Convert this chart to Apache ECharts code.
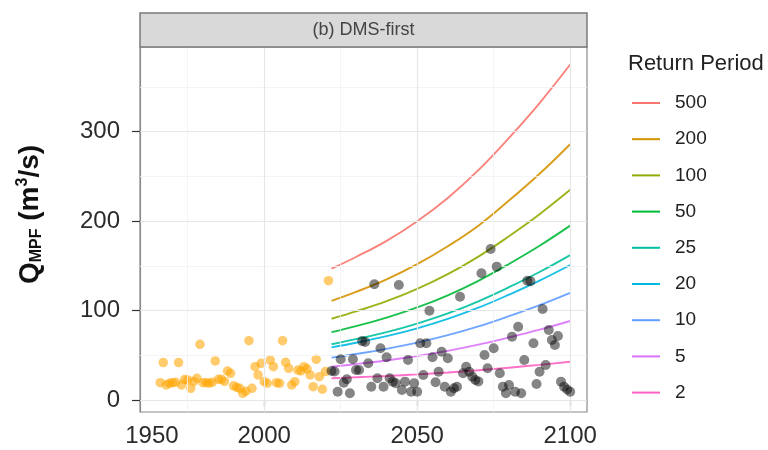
<!DOCTYPE html>
<html>
<head>
<meta charset="utf-8">
<script src="https://cdn.jsdelivr.net/npm/echarts@6/dist/echarts.min.js"></script>
<style>
html,body{margin:0;padding:0;background:#fff;}
#chart{width:768px;height:450px;}
</style>
</head>
<body>
<div id="chart"></div>
<script>
// ---------- data ----------
const histYears = [1966,1967,1968,1969,1970,1971,1972,1973,1974,1975,1976,1977,1978,1979,1980,1981,1982,1983,1984,1985,1986,1987,1988,1989,1990,1991,1992,1993,1994,1995,1996,1997,1998,1999,2000,2001,2002,2003,2004,2005,2006,2007,2008,2009,2010,2011,2012,2013,2014,2015,2016,2017,2018,2019,2020,2021];
const histQ = [19.6,42,17,19,19.6,20,42,17,23,22.6,13.3,21,24.5,62.4,19.6,19.6,19,20,43.8,23.3,23.3,21,32.6,30,16,14.4,13.3,7.7,10,66.5,13.3,37.4,28.2,41.2,20.7,19,44.9,37.4,19.6,18.9,66.5,42.3,35.6,17,20.7,33.7,32.6,37.4,35,28.2,15.1,45.7,26.3,12.2,32,133.5];

const futYears = [2022,2023,2024,2025,2026,2027,2028,2029,2030,2031,2032,2033,2034,2035,2036,2037,2038,2039,2040,2041,2042,2043,2044,2045,2046,2047,2048,2049,2050,2051,2052,2053,2054,2055,2056,2057,2058,2059,2060,2061,2062,2063,2064,2065,2066,2067,2068,2069,2070,2071,2072,2073,2074,2075,2076,2077,2078,2079,2080,2081,2082,2083,2084,2085,2086,2087,2088,2089,2090,2091,2092,2093,2094,2095,2096,2097,2098,2099,2100];
const futQ = [32.6,32,9.5,45.7,19.6,23.3,7.7,45.7,33.7,33.7,66,65,41.2,15.1,129.5,24.5,58,15.1,47.9,24.5,20.7,18.9,128.7,11.4,20.7,44.9,9.5,18.9,9.5,63.6,28.2,63.6,100,47.9,20,31.8,54.2,15.1,46.8,9.5,13.3,15.1,115.6,30,37.4,31.8,26.3,22.6,21,141.8,50.5,35.6,169,58,149.2,30,15.1,7.7,17,71,9.5,82.1,7.7,44.9,133.5,133,63.6,18.1,31.8,101.9,39.3,78.4,67.3,61.7,71.7,20.7,15.1,12,9.5];

const curveYears = [2022,2030,2040,2050,2060,2070,2080,2090,2100];
const returnPeriods = ['500','200','100','50','25','20','10','5','2'];
const rp500 = [147,160,178,200,226,257,293,332,375];
const rp200 = [111,121,135,152,172,195,223,253,286];
const rp100 = [91,99.2,110.6,124.4,140.8,160.4,183.2,207.8,235];
const rp50  = [76,82.8,92.2,103.6,117.2,133.4,152.2,172.5,195];
const rp25  = [62.5,68.2,76,85.6,96.9,110.5,126.2,143.2,162];
const rp20  = [59,64.2,71.5,80.3,90.8,103.3,117.9,133.6,151];
const rp10  = [47.5,51.6,57.4,64.3,72.6,82.4,93.9,106.3,120];
const rp5   = [37.4,40.3,44.4,49.3,55.1,62,70.1,78.8,88.5];
const rp2   = [24.5,25.6,27,28.8,30.9,33.4,36.3,39.5,43];
const curveValues = [rp500,rp200,rp100,rp50,rp25,rp20,rp10,rp5,rp2];

const yTicks = [0,100,200,300];
const yGridMinor = [50,150,250,350];
const xTicks = [2000,2050,2100];
const xGridMinor = [1975,2025,2075];
// The reference shows a stray "1950" label near the left edge of the panel
const strayXLabelAt = 1963.3;
const strayXLabel = '1950';

const facetTitle = '(b) DMS-first';
const legendTitle = 'Return Period';

// ---------- style ----------
const colors = ['#F8766D','#D39200','#93AA00','#00BA38','#00C19F','#00B9E3','#619CFF','#DB72FB','#FF61C3'];
const FONT = '"Liberation Sans", Arial, Helvetica, sans-serif';
const G = {left:140, right:181, top:47, bottom:38};
const xMin = 1959.4, xMax = 2105.5, yMin = -13.2, yMax = 394.6;

const chart = echarts.init(document.getElementById('chart'), null, {renderer:'canvas'});

const gridLines = [];
yTicks.forEach(v => gridLines.push({yAxis:v, lineStyle:{color:'#e6e6e6', width:1.2, type:'solid'}}));
yGridMinor.forEach(v => gridLines.push({yAxis:v, lineStyle:{color:'#f1f1f1', width:0.8, type:'solid'}}));
xTicks.forEach(v => gridLines.push({xAxis:v, lineStyle:{color:'#e6e6e6', width:1.2, type:'solid'}}));
xGridMinor.forEach(v => gridLines.push({xAxis:v, lineStyle:{color:'#f1f1f1', width:0.8, type:'solid'}}));

const series = [{
  name:'_grid', type:'line', data:[], z:1, silent:true,
  markLine:{silent:true, symbol:'none', label:{show:false}, animation:false, data:gridLines}
}];
returnPeriods.forEach((rp,i) => {
  series.push({
    name: rp, type:'line', smooth:0.4, showSymbol:false, z:3,
    data: curveYears.map((y,j) => [y, curveValues[i][j]]),
    lineStyle:{color:colors[i], width:1.9, opacity:0.9},
    itemStyle:{color:colors[i]},
    animation:false
  });
});
series.push({
  name:'Historic', type:'scatter', z:4, symbolSize:9.5,
  data: histYears.map((y,i)=>[y, histQ[i]]),
  itemStyle:{color:'rgba(255,165,0,0.72)'}, animation:false
});
series.push({
  name:'Future', type:'scatter', z:5, symbolSize:10,
  data: futYears.map((y,i)=>[y, futQ[i]]),
  itemStyle:{color:'rgba(0,0,0,0.6)'}, animation:false
});

const panelWidth = 768 - G.left - G.right;
const option = {
  backgroundColor:'#ffffff',
  animation:false,
  textStyle:{fontFamily:FONT},
  grid:{left:G.left, right:G.right, top:G.top, bottom:G.bottom, show:true, borderColor:'#8c8c8c', borderWidth:1.2, backgroundColor:'#ffffff'},
  title:{
    text: legendTitle, left:623, top:48,
    textStyle:{fontFamily:FONT, fontSize:22, fontWeight:'normal', color:'#222'}
  },
  legend:{
    orient:'vertical', left:627, top:88,
    data: returnPeriods, icon:'rect', itemWidth:28, itemHeight:2, itemGap:16.2,
    textStyle:{fontFamily:FONT, fontSize:19, color:'#222', lineHeight:20, padding:[0,0,0,10]},
    selectedMode:false
  },
  xAxis:{
    type:'value', min:xMin, max:xMax,
    splitLine:{show:false},
    axisLine:{show:true, lineStyle:{color:'#8c8c8c', width:1.2}},
    axisTick:{show:true, customValues:xTicks, length:6, lineStyle:{color:'#333', width:1.2}},
    axisLabel:{
      customValues:[strayXLabelAt].concat(xTicks), margin:12,
      fontFamily:FONT, fontSize:24, color:'#2b2b2b',
      formatter: v => (Math.abs(v - strayXLabelAt) < 0.01 ? strayXLabel : String(Math.round(v)))
    }
  },
  yAxis:{
    type:'value', min:yMin, max:yMax,
    splitLine:{show:false},
    axisLine:{show:true, lineStyle:{color:'#8c8c8c', width:1.2}},
    axisTick:{show:true, customValues:yTicks, length:8, lineStyle:{color:'#333', width:1.2}},
    axisLabel:{customValues:yTicks, margin:20, fontFamily:FONT, fontSize:24, color:'#2b2b2b'},
    name:'{q|Q}{sub|MPF}{q| (m}{sup|3}{q|/s)}',
    nameLocation:'middle', nameGap:95, nameRotate:90,
    nameTextStyle:{
      padding:[0,0,0,30],
      rich:{
        q:{fontFamily:FONT, fontSize:28, fontWeight:'bold', color:'#111', lineHeight:30},
        sub:{fontFamily:FONT, fontSize:16, fontWeight:'bold', color:'#111', lineHeight:14, verticalAlign:'bottom'},
        sup:{fontFamily:FONT, fontSize:16, fontWeight:'bold', color:'#111', lineHeight:14, verticalAlign:'top'}
      }
    }
  },
  graphic:[
    {type:'rect', x:G.left, y:13, z:10, shape:{width:panelWidth, height:34},
     style:{fill:'#d9d9d9', stroke:'#7a7a7a', lineWidth:1.5}},
    {type:'text', z:11, x:G.left + panelWidth/2, y:30,
     style:{text:facetTitle, fontFamily:FONT, fontSize:18, fill:'#444', align:'center', verticalAlign:'middle'}}
  ],
  series: series
};
chart.setOption(option);
</script>
</body>
</html>
